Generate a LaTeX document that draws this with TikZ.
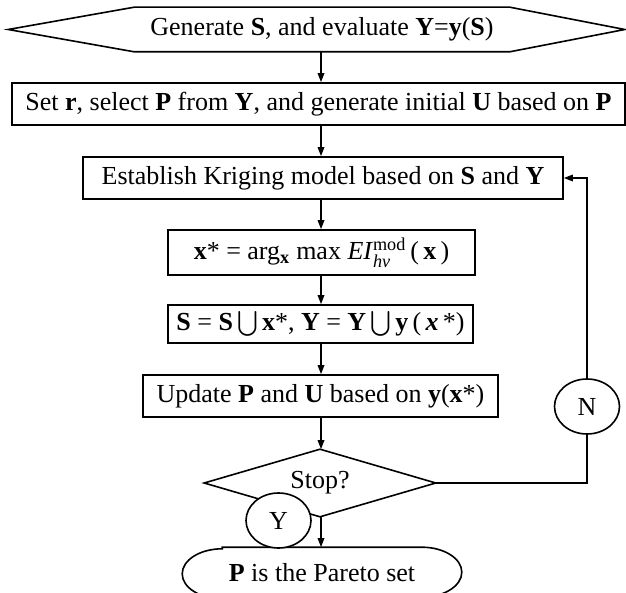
\documentclass[tikz,border=0pt]{standalone}
\usepackage{fontspec}
\usepackage{amsmath}
\setmainfont{Liberation Serif}
\usetikzlibrary{arrows.meta,calc,shapes.geometric}
\begin{document}
\begin{tikzpicture}[x=1pt,y=-1pt,line width=1.6pt,
  txt/.style={inner sep=0pt,align=center,font=\fontsize{26}{29}\selectfont},
  box/.style={txt,draw,rectangle},
  shapeonly/.style={txt,draw=none,rectangle},
  lab/.style={txt,draw,ellipse,fill=white,minimum width=65pt,minimum height=55pt},
  flow/.style={-{Triangle[length=9pt,width=6.5pt]}}
]
\clip (0,0) rectangle (626,593);
\useasboundingbox (0,0) rectangle (626,593);

\coordinate (ax) at (321,0);

% start hexagon
\node[shapeonly,minimum width=374pt,minimum height=43pt] (start) at (322,29.5)
  {Generate \textbf{S}, and evaluate \textbf{Y}=\textbf{y}(\textbf{S})};
\draw (start.north west) -- (start.north east) -- ($(start.east)+(115pt,0pt)$)
  -- (start.south east) -- (start.south west) -- ($(start.west)+(-126pt,0pt)$) -- cycle;

\node[box,minimum width=613pt,minimum height=42pt] (box2) at (318.5,104)
  {Set \textbf{r}, select \textbf{P} from \textbf{Y}, and generate initial \textbf{U} based on \textbf{P}};

\node[box,minimum width=480pt,minimum height=42pt] (box3) at (323,178)
  {Establish Kriging model based on \textbf{S} and \textbf{Y}};

\node[box,minimum width=307pt,minimum height=45pt] (box4) at (321.5,252.5)
  {\textbf{x}* = arg$_{\textbf{x}}$ max \textit{EI}$^{\text{mod}}_{\textit{hv}}$\,(\,\textbf{x}\,)};

\node[box,minimum width=305pt,minimum height=38pt] (box5) at (320.5,324)
  {\textbf{S} = \textbf{S}$\,\bigcup\,$\textbf{x}*, \textbf{Y} = \textbf{Y}$\,\bigcup\,$\textbf{y}\,(\,\textbf{\textit{x}}\,*)};

\node[box,minimum width=355pt,minimum height=42pt] (box6) at (320.5,396)
  {Update \textbf{P} and \textbf{U} based on \textbf{y}(\textbf{x}*)};

% decision diamond
\node[shapeonly,minimum width=230pt,minimum height=66pt] (stop) at (320,483) {Stop?};
\draw (stop.north) -- (stop.east) -- (stop.south) -- (stop.west) -- cycle;

% terminal
\node[shapeonly,minimum width=278pt,minimum height=50pt] (term) at (322,573)
  {\textbf{P} is the Pareto set};
\draw ($(term.north west)+(40pt,0pt)$) -- ($(term.north east)+(-40pt,0pt)$)
  arc[start angle=90,end angle=-90,x radius=40pt,y radius=25pt]
  -- ($(term.south west)+(40pt,0pt)$)
  arc[start angle=270,end angle=90,x radius=40pt,y radius=25pt] -- cycle;

\node[lab] (Y) at (278.5,520.5) {Y};
\node[lab] (N) at (587,406.5) {N};

% connectors
\draw[flow] (start.south -| ax) -- (box2.north -| ax);
\draw[flow] (box2.south -| ax) -- (box3.north -| ax);
\draw[flow] (box3.south -| ax) -- (box4.north -| ax);
\draw[flow] (box4.south -| ax) -- (box5.north -| ax);
\draw[flow] (box5.south -| ax) -- (box6.north -| ax);
\draw[flow] (box6.south -| ax) -- (stop.north -| ax);
\draw[flow] (stop.south -| ax) -- (term.north -| ax);
\draw (stop.east) -- (stop.east -| N.south) -- (N.south);
\draw[flow] (N.north) -- (N.north |- box3.east) -- (box3.east);
\end{tikzpicture}
\end{document}
